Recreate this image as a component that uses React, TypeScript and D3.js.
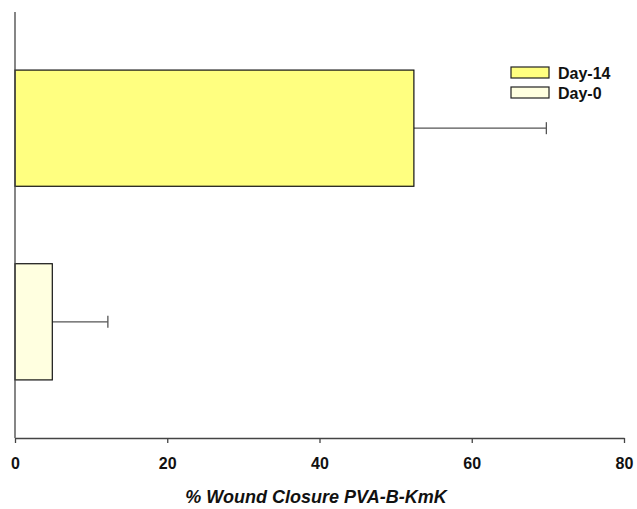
import React, { useEffect, useRef } from "react";
import * as d3 from "d3";

const groups = ["Day-14", "Day-0"];
const means = [52.4, 4.9];
const errors = [17.4, 7.3];
const fills = ["#ffff80", "#ffffe0"];
const xTicks = [0, 20, 40, 60, 80];

const W = 637,
	H = 509;
const margin = { top: 12, right: 13, bottom: 71, left: 15 };
const font = "Liberation Sans, Arial, sans-serif";

export default function App() {
	const ref = useRef<SVGSVGElement>(null);

	useEffect(() => {
		const svg = d3.select(ref.current);
		svg.selectAll("*").remove();

		const x = d3
			.scaleLinear()
			.domain([0, 80])
			.range([margin.left, W - margin.right]);
		const y = d3
			.scaleBand()
			.domain(groups)
			.range([margin.top, H - margin.bottom])
			.paddingInner(0.4)
			.paddingOuter(0.3);

		const data = groups.map((g, i) => ({ g, v: means[i], e: errors[i], c: fills[i] }));

		// error bars first so the bar edge sits over them
		const err = svg.append("g").attr("stroke", "#555").attr("stroke-width", 1.3);
		data.forEach((d) => {
			const cy = (y(d.g) as number) + y.bandwidth() / 2;
			err.append("line").attr("x1", x(d.v)).attr("x2", x(d.v + d.e)).attr("y1", cy).attr("y2", cy);
			err
				.append("line")
				.attr("x1", x(d.v + d.e))
				.attr("x2", x(d.v + d.e))
				.attr("y1", cy - 6)
				.attr("y2", cy + 6);
		});

		svg
			.append("g")
			.selectAll("rect")
			.data(data)
			.join("rect")
			.attr("x", x(0))
			.attr("y", (d) => y(d.g) as number)
			.attr("width", (d) => x(d.v) - x(0))
			.attr("height", y.bandwidth())
			.attr("fill", (d) => d.c)
			.attr("stroke", "#111")
			.attr("stroke-width", 1.2);

		// x axis
		const ax = svg
			.append("g")
			.attr("transform", `translate(0,${H - margin.bottom})`)
			.call(d3.axisBottom(x).tickValues(xTicks).tickSize(5).tickSizeOuter(0));
		ax.select(".domain").attr("stroke", "#444").attr("stroke-width", 1.3);
		ax.selectAll(".tick line").attr("stroke", "#444").attr("stroke-width", 1.3);
		ax.selectAll(".tick text")
			.attr("dy", 0)
			.attr("y", 31)
			.attr("fill", "#111")
			.style("font-family", font)
			.style("font-size", "16px")
			.style("font-weight", "bold");

		// y axis line
		svg
			.append("line")
			.attr("x1", x(0))
			.attr("x2", x(0))
			.attr("y1", margin.top)
			.attr("y2", H - margin.bottom)
			.attr("stroke", "#444")
			.attr("stroke-width", 1.3);

		svg
			.append("text")
			.attr("x", 316)
			.attr("y", 503)
			.attr("text-anchor", "middle")
			.style("font-family", font)
			.style("font-size", "18px")
			.style("font-weight", "bold")
			.style("font-style", "italic")
			.attr("fill", "#111")
			.text("% Wound Closure PVA-B-KmK");

		// legend
		const lg = svg.append("g").attr("transform", "translate(511,67)");
		data.forEach((d, i) => {
			const row = lg.append("g").attr("transform", `translate(0,${i * 20})`);
			row
				.append("rect")
				.attr("width", 38)
				.attr("height", 11)
				.attr("fill", d.c)
				.attr("stroke", "#222")
				.attr("stroke-width", 1.2);
			row
				.append("text")
				.attr("x", 47)
				.attr("y", 12)
				.style("font-family", font)
				.style("font-size", "16px")
				.style("font-weight", "bold")
				.attr("fill", "#111")
				.text(d.g);
		});
	}, []);

	return (
		<svg
			ref={ref}
			width={W}
			height={H}
			style={{ position: "absolute", left: 0, top: 0, background: "#fff" }}
		/>
	);
}
